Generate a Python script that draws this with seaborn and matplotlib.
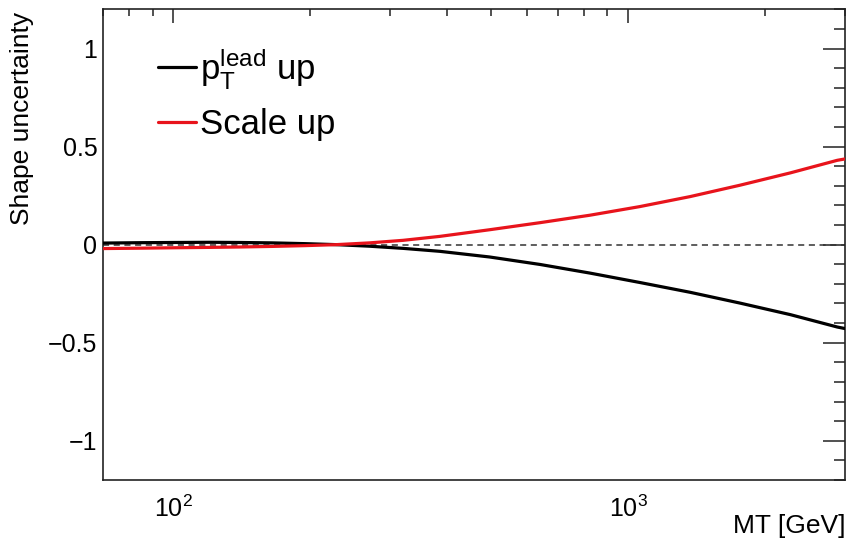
import numpy as np
import pandas as pd
import matplotlib
matplotlib.use("Agg")
import matplotlib.pyplot as plt
from matplotlib.ticker import LogLocator, MultipleLocator, NullFormatter
import seaborn as sns

# Transverse-mass points [GeV] and the relative shape shifts of each variation
mt = [70, 85, 100, 120, 140, 165, 195, 228, 270, 320, 385, 496, 640, 824,
      1061, 1369, 1762, 2275, 2884, 3000]
pt_lead_up = [0.008, 0.010, 0.011, 0.012, 0.011, 0.009, 0.005, 0.0, -0.008, -0.019,
              -0.034, -0.063, -0.101, -0.145, -0.193, -0.243, -0.298, -0.357, -0.420,
              -0.428]
scale_up = [-0.020, -0.018, -0.016, -0.014, -0.012, -0.009, -0.005, 0.0, 0.009, 0.022,
            0.042, 0.076, 0.112, 0.150, 0.194, 0.245, 0.303, 0.366, 0.430, 0.437]
series_labels = [r"$p_{T}^{lead}$ up", "Scale up"]
series_colors = ["black", "#e8141c"]

sns.set_theme(style="white")
plt.rcParams["font.family"] = ["Liberation Sans", "DejaVu Sans"]
plt.rcParams["mathtext.fontset"] = "custom"
plt.rcParams["mathtext.rm"] = "Liberation Sans"
plt.rcParams["mathtext.it"] = "Liberation Sans"
plt.rcParams["mathtext.bf"] = "Liberation Sans:bold"
plt.rcParams["mathtext.default"] = "regular"
plt.rcParams["text.color"] = "black"
plt.rcParams["axes.labelcolor"] = "black"
plt.rcParams["xtick.color"] = "black"
plt.rcParams["ytick.color"] = "black"

df = pd.DataFrame({
    "MT": mt * 2,
    "shift": pt_lead_up + scale_up,
    "variation": [series_labels[0]] * len(mt) + [series_labels[1]] * len(mt),
})

fig = plt.figure(figsize=(8.48, 5.41), dpi=100)
ax = fig.add_axes([0.1215, 0.1128, 0.8750, 0.8700])

ax.axhline(0, color="#333333", lw=1.1, ls=(0, (4, 3)), zorder=1)
sns.lineplot(data=df, x="MT", y="shift", hue="variation",
             palette=dict(zip(series_labels, series_colors)),
             lw=2.3, ax=ax, legend=False, zorder=3)

ax.set_xscale("log")
ax.set_xlim(70, 3000)
ax.set_ylim(-1.2, 1.2)

ax.xaxis.set_major_locator(LogLocator(base=10))
ax.xaxis.set_minor_locator(LogLocator(base=10, subs=np.arange(2, 10)))
ax.xaxis.set_minor_formatter(NullFormatter())
ax.yaxis.set_minor_locator(MultipleLocator(0.1))
ax.set_yticks([-1, -0.5, 0, 0.5, 1])
ax.set_yticklabels(["\u22121", "\u22120.5", "0", "0.5", "1"])

for s in ax.spines.values():
    s.set_color("#222222")
    s.set_linewidth(1.2)

ax.tick_params(axis="both", which="both", direction="in", top=True, right=True,
               color="#222222", labelcolor="black", width=1.1)
ax.tick_params(axis="x", which="major", length=10, labelsize=18, pad=11)
ax.tick_params(axis="x", which="minor", length=5)
ax.tick_params(axis="y", which="major", length=16, labelsize=18, pad=4)
ax.tick_params(axis="y", which="minor", length=8)

ax.set_xlabel("MT [GeV]", fontsize=19, ha="right", va="top", color="black")
ax.xaxis.set_label_coords(1.0, -0.072)
ax.set_ylabel("Shape uncertainty", fontsize=19, ha="right", va="top", color="black")
ax.yaxis.set_label_coords(-0.125, 0.994)

handles = [plt.Line2D([], [], color=c, lw=2.3) for c in series_colors]
leg = ax.legend(handles, series_labels, loc="upper left", bbox_to_anchor=(0.055, 0.952),
                frameon=False, fontsize=25, handlelength=1.1, handletextpad=0.12,
                labelspacing=0.5, borderaxespad=0)
for t in leg.get_texts():
    t.set_color("black")

fig.savefig("out.png", dpi=100)
